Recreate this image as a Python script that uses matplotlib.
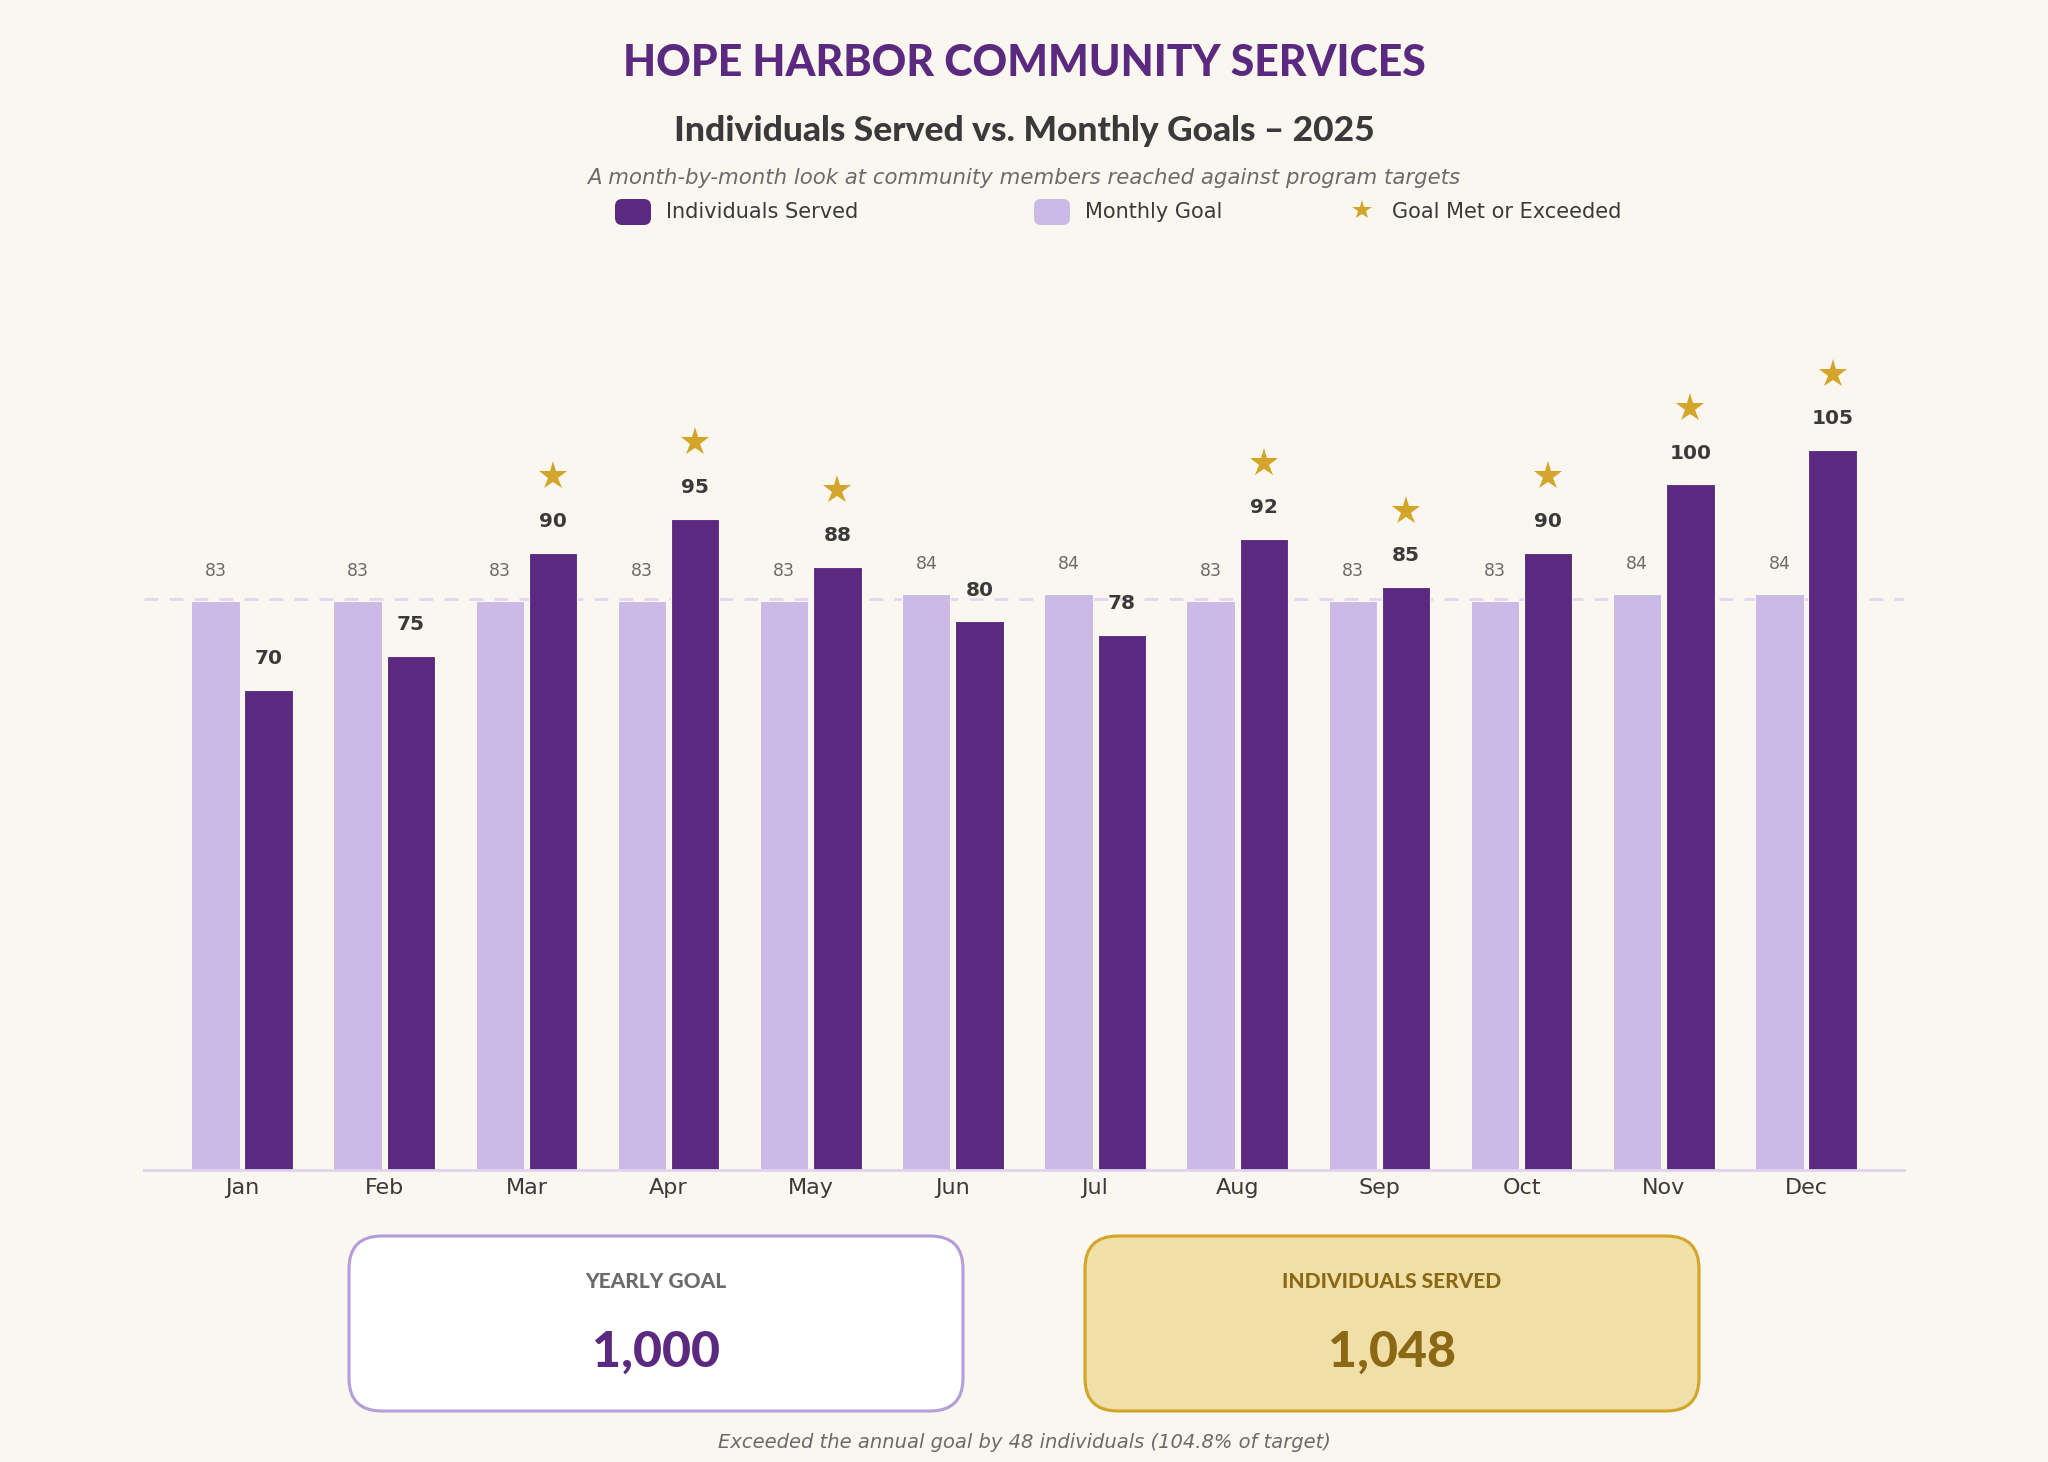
import numpy as np
import matplotlib
matplotlib.use('Agg')
import matplotlib.pyplot as plt
from matplotlib.patches import FancyBboxPatch
from matplotlib.lines import Line2D
from matplotlib.transforms import ScaledTranslation

# data
months = ['Jan', 'Feb', 'Mar', 'Apr', 'May', 'Jun', 'Jul', 'Aug', 'Sep', 'Oct', 'Nov', 'Dec']
goals = [83, 83, 83, 83, 83, 84, 84, 83, 83, 83, 84, 84]
served = [70, 75, 90, 95, 88, 80, 78, 92, 85, 90, 100, 105]
yearly_goal = 1000
total_served = 1048

# colours
BG = '#FAF7F0'
DARK = '#5B2A80'
LIGHT = '#CBB9E6'
GOLD = '#D4A52B'
TXT = '#3A3A3A'
GREY = '#6B6B6B'
BROWN = '#8B6914'

HEAD = ['Lato', 'DejaVu Sans']

fig = plt.figure(figsize=(20.48, 14.62), dpi=100, facecolor=BG)
ax = fig.add_axes([0.0703, 0.1997, 0.8594, 0.591])
ax.set_facecolor(BG)

x = np.arange(len(months))
w = 0.34
off = 0.187
ax.bar(x - off, goals, w, color=LIGHT, edgecolor=BG, linewidth=0.8, zorder=2)
ax.bar(x + off, served, w, color=DARK, edgecolor=BG, linewidth=0.8, zorder=2)

avg_goal = yearly_goal / 12
ax.axhline(avg_goal, color='#E3D7F0', linestyle=(0, (5, 4)), linewidth=2, zorder=1)

star_shift = ScaledTranslation(0, 55 / 72, fig.dpi_scale_trans)
for i in range(len(months)):
    ax.annotate(str(goals[i]), (x[i] - off, goals[i]), xytext=(0, 21.5),
                textcoords='offset points', ha='center', va='center',
                fontsize=12.5, color=GREY)
    ax.annotate(str(served[i]), (x[i] + off, served[i]), xytext=(0, 22.5),
                textcoords='offset points', ha='center', va='center',
                fontsize=14.5, fontweight='bold', color=TXT)
    if served[i] >= goals[i]:
        ax.plot([x[i] + off], [served[i]], marker='*', markersize=21, color=GOLD,
                markeredgewidth=0, transform=ax.transData + star_shift,
                clip_on=False, zorder=3)

ax.set_xlim(-0.69, 11.69)
ax.set_ylim(0, 126)
ax.set_xticks(x)
ax.set_xticklabels(months, fontsize=16, color=TXT)
ax.tick_params(axis='x', length=0, pad=6)
ax.set_yticks([])
for s in ['top', 'right', 'left']:
    ax.spines[s].set_visible(False)
ax.spines['bottom'].set_color('#E0D4EE')
ax.spines['bottom'].set_linewidth(2)

# titles
fig.text(0.5, 1 - 63 / 1462, 'HOPE HARBOR COMMUNITY SERVICES', ha='center', va='center',
         fontsize=30.8, fontweight='black', color=DARK, family=HEAD)
fig.text(0.5, 1 - 131 / 1462, 'Individuals Served vs. Monthly Goals \u2013 2025', ha='center', va='center',
         fontsize=25.5, fontweight='black', color=TXT, family=HEAD)
fig.text(0.5, 1 - 178 / 1462, 'A month-by-month look at community members reached against program targets',
         ha='center', va='center', fontsize=15.3, style='italic', color=GREY)

# legend
asp = 2048 / 1462
ly = 1 - 212 / 1462
for sx, col, label in [(615, DARK, 'Individuals Served'), (1034, LIGHT, 'Monthly Goal')]:
    sw = FancyBboxPatch((sx / 2048, ly - 13 / 1462), 36 / 2048, 26 / 1462,
                        boxstyle='round,pad=0,rounding_size=0.0035', mutation_aspect=asp,
                        transform=fig.transFigure, facecolor=col, edgecolor='none')
    fig.add_artist(sw)
    fig.text((sx + 51) / 2048, ly, label, ha='left', va='center', fontsize=15, color=TXT)
fig.add_artist(Line2D([1362 / 2048], [ly + 2 / 1462], marker='*', markersize=15, color=GOLD,
                      markeredgewidth=0, transform=fig.transFigure))
fig.text(1392 / 2048, ly, 'Goal Met or Exceeded', ha='left', va='center', fontsize=15, color=TXT)

# summary boxes
boxes = [(349, '#FFFFFF', '#B39DDB', 'YEARLY GOAL', GREY, f'{yearly_goal:,}', DARK),
         (1085, '#F1DFA8', '#D4A52B', 'INDIVIDUALS SERVED', BROWN, f'{total_served:,}', BROWN)]
for bx, fc, ec, lab, lc, num, nc in boxes:
    b = FancyBboxPatch((bx / 2048, 1 - 1411 / 1462), 614 / 2048, 175 / 1462,
                       boxstyle='round,pad=0,rounding_size=0.016', mutation_aspect=asp,
                       transform=fig.transFigure, facecolor=fc, edgecolor=ec, linewidth=2.2)
    fig.add_artist(b)
    cx = (bx + 307) / 2048
    fig.text(cx, 1 - 1281 / 1462, lab, ha='center', va='center', fontsize=15,
             fontweight='black', color=lc, family=HEAD)
    fig.text(cx, 1 - 1352 / 1462, num, ha='center', va='center', fontsize=36,
             fontweight='black', color=nc, family=HEAD)

diff = total_served - yearly_goal
pct = total_served / yearly_goal * 100
fig.text(0.5, 1 - 1443 / 1462, f'Exceeded the annual goal by {diff} individuals ({pct:.1f}% of target)',
         ha='center', va='center', fontsize=14, style='italic', color=GREY)

fig.savefig('out.png', dpi=100, facecolor=BG)
